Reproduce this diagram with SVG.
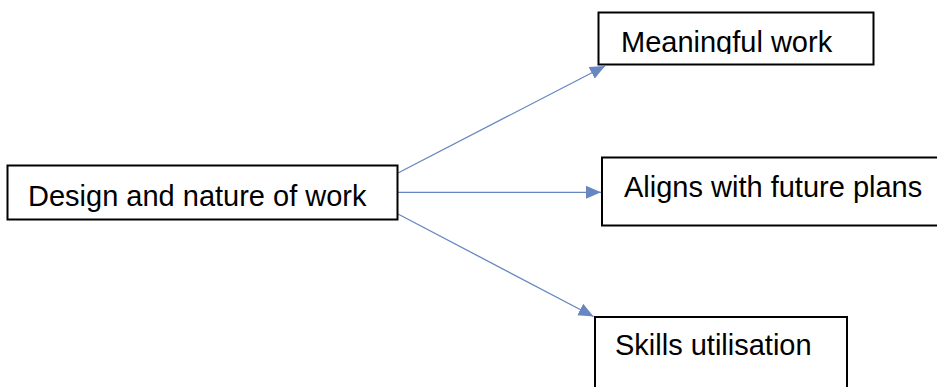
<svg xmlns="http://www.w3.org/2000/svg" width="937" height="387" viewBox="0 0 937 387">
<style>
  .box { fill: #ffffff; stroke: #000000; stroke-width: 2; }
  .lbl { font-family: "Liberation Sans", Arial, sans-serif; font-size: 29px; fill: #000000; }
  .conn { stroke: #6787c2; stroke-width: 1.3; fill: none; marker-end: url(#arr); }
</style>
<defs>
  <marker id="arr" markerUnits="userSpaceOnUse" markerWidth="16" markerHeight="16" viewBox="0 0 16 16" refX="15" refY="8" orient="auto">
    <path d="M0,1.5 L15,8 L0,14.5 Z" fill="#6787c2"/>
  </marker>
  <clipPath id="clipM"><rect x="598" y="12" width="276" height="42"/></clipPath>
</defs>
<rect width="937" height="387" fill="#ffffff"/>
<g id="connectors">
  <line class="conn" x1="397" y1="173.5" x2="605" y2="66"/>
  <line class="conn" x1="397" y1="192.3" x2="601" y2="192.3"/>
  <line class="conn" x1="398" y1="214" x2="593.5" y2="316.5"/>
</g>
<g id="design">
  <rect class="box" x="7.5" y="165.5" width="390" height="54"/>
  <text class="lbl" x="28" y="206">Design and nature of work</text>
</g>
<g id="meaningful">
  <rect class="box" x="598.5" y="12.5" width="275" height="52"/>
  <text class="lbl" x="621" y="51.5" clip-path="url(#clipM)">Meaningful work</text>
</g>
<g id="aligns">
  <rect class="box" x="602" y="157.5" width="345" height="68"/>
  <text class="lbl" x="624" y="197">Aligns with future plans</text>
</g>
<g id="skills">
  <rect class="box" x="595" y="317" width="252" height="80"/>
  <text class="lbl" x="615" y="355">Skills utilisation</text>
</g>
</svg>
